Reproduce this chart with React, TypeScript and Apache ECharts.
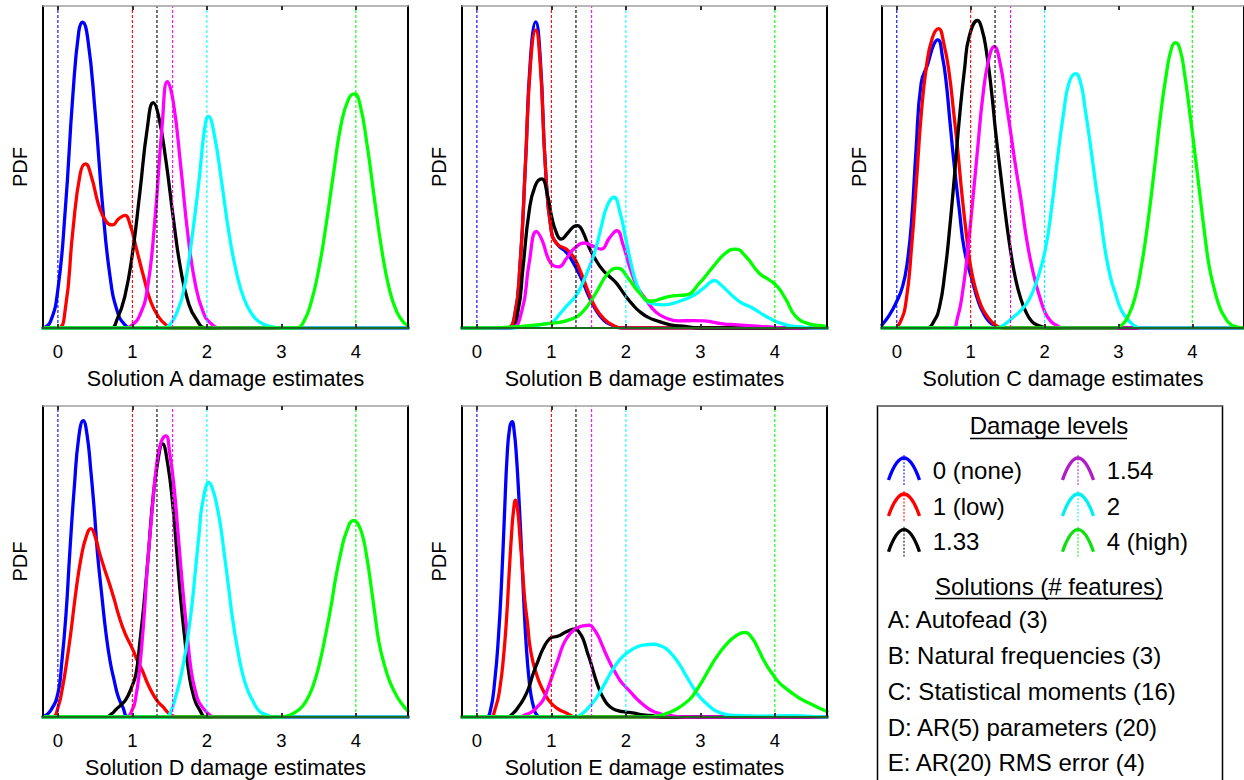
import React, { useEffect, useRef } from "react";
import * as echarts from "echarts";

const FONT = "'Liberation Sans', Arial, Helvetica, sans-serif";

// ---- tick labels & damage levels ----
const X_TICKS = [0, 1, 2, 3, 4];
const X_MIN = -0.2;
const X_MAX = 4.7;
const DAMAGE_LEVELS = [0, 1, 1.33, 1.54, 2, 4];
const LEVEL_NAMES = ["0 (none)", "1 (low)", "1.33", "1.54", "2", "4 (high)"];
const LEVEL_COLORS = ["#0000ff", "#ff0000", "#000000", "#ff00ff", "#00ffff", "#00ff00"];
const LEGEND_COLORS = ["#0000ff", "#ff0000", "#000000", "#b01cc8", "#00f0f0", "#10e010"];
const SOLUTION_LETTERS = ["A", "B", "C", "D", "E"];
const SOLUTION_NAMES = [
  "A: Autofead (3)",
  "B: Natural frequencies (3)",
  "C: Statistical moments (16)",
  "D: AR(5) parameters (20)",
  "E: AR(20) RMS error (4)",
];

// ---- Solution A (x = damage estimate, y = relative PDF height) ----
const A_L0 = [[-0.2,0],[-0.1,0.02],[0,0.12],[0.1,0.37],[0.2,0.72],[0.28,0.92],[0.33,0.95],[0.4,0.9],[0.5,0.67],[0.6,0.38],[0.7,0.16],[0.8,0.05],[0.9,0.01],[1.0,0]];
const A_L1 = [[0,0],[0.1,0.06],[0.2,0.3],[0.3,0.48],[0.37,0.51],[0.45,0.47],[0.55,0.38],[0.65,0.33],[0.73,0.32],[0.82,0.34],[0.9,0.35],[0.97,0.32],[1.05,0.25],[1.15,0.16],[1.25,0.08],[1.35,0.035],[1.45,0.01],[1.55,0]];
const A_L133 = [[0.7,0],[0.8,0.03],[0.9,0.1],[1.0,0.23],[1.1,0.42],[1.2,0.62],[1.28,0.7],[1.35,0.66],[1.45,0.52],[1.55,0.34],[1.65,0.18],[1.75,0.08],[1.85,0.03],[2.0,0]];
const A_L154 = [[0.9,0],[1.0,0.01],[1.1,0.04],[1.2,0.12],[1.3,0.33],[1.4,0.63],[1.47,0.765],[1.55,0.7],[1.65,0.5],[1.75,0.28],[1.85,0.13],[1.95,0.05],[2.05,0.015],[2.2,0]];
const A_L2 = [[1.4,0],[1.5,0.01],[1.6,0.05],[1.7,0.13],[1.8,0.28],[1.9,0.47],[1.97,0.62],[2.02,0.657],[2.1,0.6],[2.2,0.45],[2.3,0.29],[2.4,0.17],[2.5,0.09],[2.6,0.045],[2.7,0.02],[2.85,0.005],[3.0,0]];
const A_L4 = [[3.2,0],[3.3,0.02],[3.4,0.08],[3.5,0.18],[3.6,0.32],[3.7,0.48],[3.8,0.63],[3.9,0.71],[3.98,0.727],[4.05,0.7],[4.15,0.57],[4.25,0.4],[4.35,0.24],[4.45,0.12],[4.55,0.05],[4.65,0.015],[4.7,0.01]];

// ---- Solution B ----
const B_L0 = [[0.4,0],[0.5,0.03],[0.58,0.2],[0.65,0.5],[0.72,0.84],[0.79,0.951],[0.85,0.84],[0.92,0.5],[1.0,0.3],[1.08,0.26],[1.2,0.235],[1.3,0.2],[1.4,0.155],[1.5,0.1],[1.6,0.055],[1.7,0.025],[1.8,0.01],[1.95,0]];
const B_L1 = [[0.4,0],[0.5,0.03],[0.58,0.2],[0.65,0.5],[0.72,0.82],[0.79,0.925],[0.85,0.82],[0.92,0.5],[1.0,0.3],[1.08,0.26],[1.2,0.245],[1.3,0.22],[1.4,0.17],[1.5,0.11],[1.6,0.06],[1.7,0.03],[1.8,0.012],[1.95,0]];
const B_L133 = [[0.45,0],[0.55,0.05],[0.62,0.19],[0.7,0.36],[0.78,0.44],[0.87,0.463],[0.95,0.41],[1.0,0.35],[1.06,0.3],[1.13,0.276],[1.22,0.295],[1.3,0.315],[1.35,0.318],[1.42,0.3],[1.51,0.248],[1.6,0.21],[1.69,0.18],[1.78,0.16],[1.87,0.14],[2.0,0.098],[2.1,0.07],[2.18,0.052],[2.3,0.033],[2.45,0.02],[2.6,0.01],[2.8,0.005],[3.0,0]];
const B_L154 = [[0.45,0],[0.6,0.05],[0.7,0.2],[0.8,0.3],[0.88,0.27],[0.95,0.22],[1.02,0.195],[1.1,0.19],[1.2,0.215],[1.3,0.245],[1.45,0.264],[1.55,0.255],[1.67,0.245],[1.78,0.28],[1.88,0.302],[1.96,0.26],[2.05,0.19],[2.15,0.13],[2.27,0.088],[2.4,0.05],[2.54,0.031],[2.7,0.022],[2.9,0.023],[3.05,0.022],[3.3,0.013],[3.5,0.01],[3.8,0.005],[4.0,0.002],[4.2,0]];
const B_L2 = [[0.5,0],[0.7,0.005],[0.9,0.012],[1.02,0.02],[1.1,0.04],[1.2,0.067],[1.33,0.1],[1.42,0.14],[1.51,0.19],[1.6,0.25],[1.67,0.315],[1.75,0.38],[1.84,0.406],[1.92,0.36],[2.0,0.275],[2.07,0.2],[2.14,0.14],[2.22,0.1],[2.32,0.078],[2.5,0.072],[2.72,0.083],[2.9,0.1],[3.05,0.125],[3.19,0.147],[3.27,0.135],[3.34,0.12],[3.52,0.083],[3.7,0.062],[3.92,0.031],[4.15,0.01],[4.4,0.002],[4.5,0]];
const B_L4 = [[0.0,0],[0.58,0.005],[1.02,0.015],[1.25,0.026],[1.42,0.05],[1.6,0.11],[1.76,0.17],[1.89,0.186],[2.03,0.155],[2.18,0.11],[2.34,0.083],[2.5,0.093],[2.63,0.1],[2.81,0.103],[2.99,0.14],[3.17,0.19],[3.34,0.233],[3.47,0.245],[3.61,0.222],[3.79,0.17],[3.92,0.15],[4.04,0.127],[4.15,0.088],[4.28,0.036],[4.46,0.013],[4.68,0.005]];

// ---- Solution C ----
const C_L0 = [[-0.2,0.01],[-0.1,0.04],[0,0.083],[0.08,0.13],[0.14,0.2],[0.2,0.33],[0.26,0.55],[0.33,0.76],[0.42,0.82],[0.5,0.88],[0.556,0.895],[0.62,0.84],[0.67,0.76],[0.72,0.64],[0.78,0.5],[0.85,0.36],[0.915,0.243],[1.03,0.14],[1.1,0.085],[1.16,0.052],[1.25,0.02],[1.34,0.007],[1.45,0]];
const C_L1 = [[-0.05,0],[0.05,0.02],[0.13,0.09],[0.2,0.25],[0.265,0.45],[0.33,0.66],[0.4,0.81],[0.48,0.9],[0.565,0.93],[0.64,0.88],[0.71,0.79],[0.77,0.67],[0.825,0.553],[0.88,0.42],[0.94,0.295],[1.0,0.19],[1.07,0.119],[1.14,0.07],[1.21,0.041],[1.34,0.008],[1.45,0]];
const C_L133 = [[0.4,0],[0.5,0.02],[0.58,0.067],[0.65,0.17],[0.71,0.295],[0.78,0.47],[0.85,0.657],[0.92,0.81],[0.98,0.905],[1.094,0.955],[1.15,0.93],[1.21,0.864],[1.28,0.74],[1.34,0.605],[1.41,0.47],[1.475,0.346],[1.54,0.24],[1.61,0.15],[1.68,0.09],[1.744,0.052],[1.83,0.02],[1.92,0.008],[2.05,0]];
const C_L154 = [[0.75,0],[0.82,0.03],[0.89,0.11],[0.96,0.24],[1.03,0.4],[1.1,0.57],[1.16,0.71],[1.24,0.83],[1.32,0.874],[1.4,0.82],[1.475,0.71],[1.54,0.61],[1.61,0.5],[1.68,0.4],[1.744,0.295],[1.81,0.21],[1.88,0.14],[1.95,0.085],[2.01,0.047],[2.08,0.022],[2.15,0.01],[2.25,0]];
const C_L2 = [[1.35,0],[1.45,0.01],[1.565,0.031],[1.68,0.055],[1.79,0.088],[1.9,0.15],[2.01,0.243],[2.1,0.38],[2.19,0.553],[2.26,0.67],[2.33,0.76],[2.42,0.79],[2.49,0.76],[2.55,0.68],[2.62,0.57],[2.69,0.45],[2.76,0.34],[2.82,0.243],[2.89,0.16],[2.955,0.11],[3.04,0.055],[3.13,0.026],[3.2,0.01],[3.3,0]];
const C_L4 = [[2.95,0],[3.05,0.01],[3.13,0.036],[3.22,0.09],[3.31,0.19],[3.4,0.33],[3.49,0.5],[3.57,0.66],[3.65,0.79],[3.72,0.87],[3.776,0.886],[3.84,0.86],[3.895,0.79],[3.96,0.68],[4.03,0.553],[4.1,0.42],[4.166,0.295],[4.23,0.19],[4.3,0.119],[4.37,0.065],[4.435,0.036],[4.5,0.015],[4.57,0.005],[4.7,0]];

// ---- Solution D ----
const D_L0 = [[-0.2,0],[-0.1,0.02],[0,0.076],[0.05,0.17],[0.107,0.324],[0.16,0.53],[0.22,0.738],[0.28,0.9],[0.34,0.953],[0.39,0.91],[0.443,0.79],[0.49,0.66],[0.53,0.53],[0.59,0.39],[0.644,0.272],[0.7,0.18],[0.756,0.117],[0.81,0.065],[0.868,0.034],[0.96,0]];
const D_L1 = [[-0.07,0],[0,0.03],[0.063,0.096],[0.12,0.18],[0.174,0.272],[0.24,0.4],[0.31,0.51],[0.38,0.58],[0.443,0.606],[0.5,0.58],[0.555,0.531],[0.62,0.48],[0.69,0.43],[0.76,0.375],[0.82,0.324],[0.9,0.27],[1.0,0.22],[1.07,0.18],[1.136,0.148],[1.2,0.11],[1.27,0.076],[1.34,0.05],[1.405,0.034],[1.5,0.01],[1.6,0]];
const D_L133 = [[0.64,0],[0.72,0.01],[0.78,0.024],[0.85,0.04],[0.91,0.055],[0.98,0.09],[1.047,0.138],[1.1,0.24],[1.16,0.376],[1.22,0.54],[1.27,0.686],[1.34,0.82],[1.405,0.878],[1.47,0.82],[1.54,0.686],[1.6,0.52],[1.65,0.376],[1.7,0.26],[1.76,0.138],[1.83,0.06],[1.9,0.024],[2.0,0]];
const D_L154 = [[0.9,0],[1.0,0.024],[1.05,0.07],[1.09,0.138],[1.15,0.3],[1.2,0.48],[1.26,0.65],[1.315,0.79],[1.38,0.88],[1.45,0.904],[1.5,0.85],[1.56,0.738],[1.61,0.6],[1.67,0.428],[1.73,0.28],[1.79,0.148],[1.85,0.08],[1.9,0.045],[2.03,0.008],[2.1,0]];
const D_L2 = [[1.45,0],[1.52,0.02],[1.58,0.065],[1.65,0.13],[1.72,0.22],[1.79,0.34],[1.85,0.48],[1.9,0.6],[1.94,0.686],[2.03,0.754],[2.08,0.73],[2.12,0.696],[2.18,0.62],[2.23,0.531],[2.29,0.42],[2.34,0.324],[2.41,0.22],[2.48,0.138],[2.55,0.085],[2.61,0.055],[2.7,0.02],[2.79,0.008],[2.9,0]];
const D_L4 = [[3.0,0],[3.1,0.005],[3.24,0.024],[3.33,0.05],[3.42,0.096],[3.51,0.17],[3.6,0.272],[3.67,0.36],[3.73,0.448],[3.8,0.53],[3.87,0.593],[3.97,0.632],[4.03,0.62],[4.09,0.583],[4.15,0.51],[4.2,0.428],[4.25,0.34],[4.31,0.241],[4.38,0.17],[4.45,0.117],[4.52,0.08],[4.58,0.055],[4.64,0.035],[4.7,0.019]];

// ---- Solution E ----
const E_L0 = [[0.12,0],[0.18,0.02],[0.24,0.117],[0.29,0.26],[0.33,0.428],[0.37,0.65],[0.406,0.841],[0.44,0.93],[0.473,0.95],[0.5,0.92],[0.53,0.841],[0.565,0.7],[0.6,0.531],[0.63,0.37],[0.665,0.22],[0.7,0.12],[0.73,0.065],[0.77,0.025],[0.8,0.008],[0.85,0]];
const E_L1 = [[0.17,0],[0.25,0.03],[0.31,0.096],[0.36,0.2],[0.4,0.324],[0.43,0.45],[0.464,0.583],[0.49,0.66],[0.518,0.697],[0.55,0.66],[0.576,0.583],[0.61,0.48],[0.643,0.376],[0.68,0.3],[0.71,0.231],[0.75,0.18],[0.8,0.138],[0.85,0.105],[0.91,0.076],[0.96,0.055],[1.02,0.039],[1.1,0.024],[1.2,0.013],[1.33,0]];
const E_L133 = [[0.4,0],[0.49,0.013],[0.55,0.03],[0.62,0.055],[0.69,0.09],[0.754,0.138],[0.82,0.18],[0.89,0.22],[0.978,0.252],[1.05,0.258],[1.11,0.262],[1.2,0.274],[1.32,0.283],[1.38,0.27],[1.424,0.252],[1.48,0.21],[1.536,0.169],[1.59,0.125],[1.647,0.086],[1.7,0.06],[1.76,0.039],[1.83,0.026],[1.915,0.019],[2.0,0.016],[2.09,0.013],[2.2,0.008],[2.32,0.005],[2.5,0]];
const E_L154 = [[0.57,0],[0.65,0.007],[0.754,0.019],[0.82,0.035],[0.89,0.055],[0.95,0.09],[1.02,0.138],[1.09,0.185],[1.156,0.231],[1.22,0.258],[1.29,0.277],[1.36,0.288],[1.424,0.293],[1.513,0.295],[1.57,0.283],[1.625,0.262],[1.68,0.232],[1.737,0.2],[1.8,0.168],[1.87,0.138],[1.93,0.115],[2.0,0.096],[2.07,0.078],[2.14,0.06],[2.23,0.04],[2.32,0.024],[2.41,0.014],[2.5,0.008],[2.65,0.003],[2.8,0]];
const E_L2 = [[1.33,0],[1.42,0.012],[1.513,0.034],[1.6,0.06],[1.69,0.096],[1.78,0.135],[1.87,0.169],[1.96,0.195],[2.05,0.212],[2.14,0.224],[2.23,0.231],[2.384,0.234],[2.46,0.229],[2.54,0.22],[2.63,0.198],[2.72,0.169],[2.81,0.132],[2.9,0.096],[2.96,0.074],[3.03,0.055],[3.12,0.035],[3.21,0.019],[3.35,0.008],[3.48,0.005],[3.8,0.003],[4.2,0.004],[4.4,0.003],[4.7,0]];
const E_L4 = [[2.3,0],[2.5,0.008],[2.67,0.024],[2.85,0.055],[2.94,0.083],[3.03,0.117],[3.12,0.155],[3.21,0.19],[3.34,0.231],[3.48,0.262],[3.6,0.272],[3.7,0.252],[3.77,0.222],[3.835,0.19],[3.9,0.162],[3.97,0.138],[4.03,0.118],[4.1,0.101],[4.17,0.088],[4.237,0.076],[4.32,0.062],[4.415,0.05],[4.5,0.04],[4.594,0.029],[4.7,0.018]];

const PANEL_CURVES = [
  [A_L0, A_L1, A_L133, A_L154, A_L2, A_L4],
  [B_L0, B_L1, B_L133, B_L154, B_L2, B_L4],
  [C_L0, C_L1, C_L133, C_L154, C_L2, C_L4],
  [D_L0, D_L1, D_L133, D_L154, D_L2, D_L4],
  [E_L0, E_L1, E_L133, E_L154, E_L2, E_L4],
];

// layout (px)
const GRID_LEFT = [43, 462, 882, 43, 462];
const GRID_TOP = [6, 6, 6, 406, 406];
const GRID_W = 365;
const GRID_H = 322;

function padCurve(pts: number[][]) {
  const out = pts.slice();
  if (out[0][0] > X_MIN) out.unshift([X_MIN, 0]);
  if (out[out.length - 1][0] < X_MAX) out.push([X_MAX, 0]);
  return out;
}

function buildOption() {
  const grid: any[] = [];
  const xAxis: any[] = [];
  const yAxis: any[] = [];
  const series: any[] = [];

  SOLUTION_LETTERS.forEach((L, i) => {
    grid.push({ left: GRID_LEFT[i], top: GRID_TOP[i], width: GRID_W, height: GRID_H, containLabel: false });
    xAxis.push({
      gridIndex: i, type: "value", min: X_MIN, max: X_MAX, position: "bottom", z: 5,
      name: `Solution ${L} damage estimates`, nameLocation: "middle", nameGap: 40,
      nameTextStyle: { fontSize: 21.5, color: "#000", fontFamily: FONT },
      axisLine: { show: true, onZero: false, lineStyle: { color: "#1d6b1d", width: 2 } },
      axisTick: { show: true, inside: true, length: 4, customValues: X_TICKS, lineStyle: { color: "#333", width: 2 } },
      axisLabel: { show: true, customValues: X_TICKS, fontSize: 18.5, color: "#000", margin: 14, fontFamily: FONT },
      splitLine: { show: false },
    });
    xAxis.push({
      gridIndex: i, type: "value", min: X_MIN, max: X_MAX, position: "top", z: 5,
      axisLine: { show: true, onZero: false, lineStyle: { color: "#a0a0a0", width: 1.5 } },
      axisTick: { show: true, inside: true, length: 4, customValues: X_TICKS, lineStyle: { color: "#333", width: 2 } },
      axisLabel: { show: false },
      splitLine: { show: false },
    });
    yAxis.push({
      gridIndex: i, type: "value", min: 0, max: 1, position: "left", z: 5,
      name: "PDF", nameLocation: "middle", nameGap: 13, nameRotate: 90,
      nameTextStyle: { fontSize: 20, color: "#000", fontFamily: FONT },
      axisLine: { show: true, onZero: false, lineStyle: { color: "#000", width: 2 } },
      axisTick: { show: false }, axisLabel: { show: false }, splitLine: { show: false },
    });
    yAxis.push({
      gridIndex: i, type: "value", min: 0, max: 1, position: "right", z: 5,
      axisLine: { show: true, onZero: false, lineStyle: { color: "#000", width: 2 } },
      axisTick: { show: false }, axisLabel: { show: false }, splitLine: { show: false },
    });

    PANEL_CURVES[i].forEach((pts, k) => {
      series.push({
        type: "line", name: `${L}-${LEVEL_NAMES[k]}`,
        xAxisIndex: 2 * i, yAxisIndex: 2 * i,
        data: padCurve(pts), smooth: 0.5,
        symbol: "none", showSymbol: false, clip: true, silent: true,
        lineStyle: { color: LEVEL_COLORS[k], width: 3.3, join: "round", cap: "round" }, z: 2,
      });
    });
    DAMAGE_LEVELS.forEach((lvl, k) => {
      series.push({
        type: "line", name: `${L}-level-${lvl}`,
        xAxisIndex: 2 * i, yAxisIndex: 2 * i,
        data: [[lvl, 0], [lvl, 1]],
        symbol: "none", showSymbol: false, silent: true,
        lineStyle: { color: LEVEL_COLORS[k], width: 1.1, type: [3, 2] }, z: 3,
      });
    });
  });

  // legend box
  const BOX_L = 877.5, BOX_T = 406, BOX_R = 1222.5;
  const LFONT = `24px ${FONT}`;
  const graphic: any[] = [
    { type: "rect", shape: { x: BOX_L, y: BOX_T, width: BOX_R - BOX_L, height: 420 }, style: { fill: "#fff", stroke: "#000", lineWidth: 1.5 }, z: 10 },
    { type: "line", shape: { x1: BOX_L, y1: BOX_T, x2: BOX_R, y2: BOX_T }, style: { stroke: "#8c8c8c", lineWidth: 1.5 }, z: 11 },
    { type: "text", x: 1049, y: 425, style: { text: "Damage levels", font: LFONT, fill: "#000", align: "center", verticalAlign: "middle" }, z: 12 },
    { type: "line", shape: { x1: 970, y1: 438.5, x2: 1127, y2: 438.5 }, style: { stroke: "#000", lineWidth: 1.5 }, z: 12 },
    { type: "text", x: 1049, y: 586.7, style: { text: "Solutions (# features)", font: LFONT, fill: "#000", align: "center", verticalAlign: "middle" }, z: 12 },
    { type: "line", shape: { x1: 935, y1: 598.5, x2: 1163, y2: 598.5 }, style: { stroke: "#000", lineWidth: 1.5 }, z: 12 },
  ];
  const rowY = [470, 506, 541.7];
  LEVEL_NAMES.forEach((nm, k) => {
    const col = k < 3 ? 0 : 1;
    const cy = rowY[k % 3];
    const cx = col === 0 ? 904 : 1078;
    const tx = col === 0 ? 932.7 : 1106.7;
    graphic.push({
      type: "bezierCurve",
      shape: { x1: cx - 15.5, y1: cy + 10, x2: cx + 15.5, y2: cy + 10, cpx1: cx, cpy1: cy - 34 },
      style: { stroke: LEGEND_COLORS[k], lineWidth: 3.3, fill: null }, z: 12,
    });
    graphic.push({
      type: "line",
      shape: { x1: cx, y1: cy - 15, x2: cx, y2: cy + 15 },
      style: { stroke: LEGEND_COLORS[k], lineWidth: 1, lineDash: [2, 1.5] }, z: 13,
    });
    graphic.push({
      type: "text", x: tx, y: cy,
      style: { text: nm, font: LFONT, fill: "#000", align: "left", verticalAlign: "middle" }, z: 12,
    });
  });
  const solY = [619.3, 655, 691, 727.3, 762.7];
  SOLUTION_NAMES.forEach((s, j) => {
    graphic.push({
      type: "text", x: 887.7, y: solY[j],
      style: { text: s, font: LFONT, fill: "#000", align: "left", verticalAlign: "middle" }, z: 12,
    });
  });

  return {
    animation: false,
    backgroundColor: "#fff",
    textStyle: { fontFamily: FONT },
    grid, xAxis, yAxis, series, graphic,
  };
}

export default function App() {
  const ref = useRef<HTMLDivElement>(null);
  useEffect(() => {
    document.body.style.margin = "0";
    if (!ref.current) return;
    const chart = echarts.init(ref.current, undefined, { renderer: "svg" });
    chart.setOption(buildOption() as any);
    return () => chart.dispose();
  }, []);
  return <div ref={ref} style={{ width: 1244, height: 780 }} />;
}
